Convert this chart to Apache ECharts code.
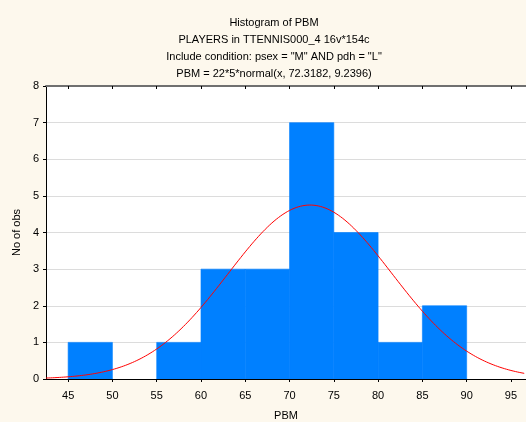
<!DOCTYPE html>
<html>
<head>
<meta charset="utf-8">
<title>Histogram of PBM</title>
<script src="https://cdn.jsdelivr.net/npm/echarts@6/dist/echarts.min.js"></script>
<style>
  html, body { margin: 0; padding: 0; background: #fdf8ed; }
  #chart { width: 526px; height: 422px; }
</style>
</head>
<body>
<div id="chart"></div>
<script>
// Histogram bins (lower edges) and their counts
const binStarts = [45, 50, 55, 60, 65, 70, 75, 80, 85];
const binWidth = 5;
const counts = [1, 0, 1, 3, 3, 7, 4, 1, 2];

// Axis tick labels
const xTicks = [45, 50, 55, 60, 65, 70, 75, 80, 85, 90, 95];
const yTicks = [0, 1, 2, 3, 4, 5, 6, 7, 8];

// Fitted normal curve: PBM = 22*5*normal(x, 72.3182, 9.2396)
const nObs = 22;
const fitMean = 72.3182;
const fitSd = 9.2396;

const xMin = 42.5, xMax = 96.7;

const curve = [];
for (let x = xMin; x <= xMax + 1e-9; x += 0.25) {
  const z = (x - fitMean) / fitSd;
  const y = nObs * binWidth * Math.exp(-0.5 * z * z) / (fitSd * Math.sqrt(2 * Math.PI));
  curve.push([x, y]);
}

const bars = binStarts.map((s, i) => [s, s + binWidth, counts[i]]);

const font = 'Liberation Sans, Arial, sans-serif';
const chart = echarts.init(document.getElementById('chart'), null, { renderer: 'canvas' });

chart.setOption({
  backgroundColor: '#fdf8ed',
  animation: false,
  title: {
    text: 'Histogram of PBM\nPLAYERS in TTENNIS000_4 16v*154c\nInclude condition: psex = "M" AND pdh = "L"\nPBM = 22*5*normal(x, 72.3182, 9.2396)',
    left: 269,
    top: 9,
    textAlign: 'center',
    textStyle: {
      fontFamily: font, fontSize: 11, fontWeight: 'normal',
      color: '#000', lineHeight: 17
    }
  },
  grid: {
    left: 46, right: 0, top: 86, bottom: 43,
    outerBoundsMode: 'none', containLabel: false,
    show: true, backgroundColor: '#ffffff', borderWidth: 0
  },
  xAxis: [
    {
      type: 'value', position: 'bottom',
      min: xMin, max: xMax,
      name: 'PBM', nameLocation: 'middle', nameGap: 31,
      nameTextStyle: { fontFamily: font, fontSize: 11, color: '#000' },
      axisLine: { show: true, onZero: false, lineStyle: { color: '#000', width: 1 } },
      axisTick: { show: true, inside: false, length: 3, customValues: xTicks, lineStyle: { color: '#000' } },
      axisLabel: { customValues: xTicks, fontFamily: font, fontSize: 11, color: '#000', margin: 11 },
      splitLine: { show: false }
    },
    {
      type: 'value', position: 'top',
      min: xMin, max: xMax,
      axisLine: { show: true, onZero: false, lineStyle: { color: '#707070', width: 2 } },
      axisTick: { show: true, inside: true, length: 3, customValues: xTicks, lineStyle: { color: '#000' } },
      axisLabel: { show: false },
      splitLine: { show: false }
    }
  ],
  yAxis: {
    type: 'value', min: 0, max: 8, interval: 1,
    name: 'No of obs', nameLocation: 'middle', nameGap: 19,
    nameTextStyle: { fontFamily: font, fontSize: 11, color: '#000' },
    axisLine: { show: true, lineStyle: { color: '#000', width: 1 } },
    axisTick: { show: true, inside: false, length: 3, lineStyle: { color: '#000' } },
    axisLabel: {
      fontFamily: font, fontSize: 11, color: '#000', margin: 7,
      formatter: v => yTicks.includes(v) ? String(v) : ''
    },
    splitLine: { show: true, lineStyle: { color: '#dcdcdc', width: 1 } }
  },
  series: [
    {
      type: 'custom',
      xAxisIndex: 0,
      clip: true,
      data: bars,
      renderItem: function (params, api) {
        if (!(api.value(2) > 0)) {
          return null;
        }
        const p0 = api.coord([api.value(0), api.value(2)]);
        const p1 = api.coord([api.value(1), 0]);
        return {
          type: 'rect',
          shape: { x: p0[0], y: p0[1], width: p1[0] - p0[0], height: p1[1] - p0[1] },
          style: { fill: '#0080ff', stroke: '#0080ff', lineWidth: 0.6 }
        };
      },
      encode: { x: [0, 1], y: 2 },
      z: 2
    },
    {
      type: 'line',
      xAxisIndex: 0,
      data: curve,
      showSymbol: false,
      symbol: 'none',
      clip: true,
      lineStyle: { color: '#ff0000', width: 1 },
      z: 3
    }
  ]
});
</script>
</body>
</html>
